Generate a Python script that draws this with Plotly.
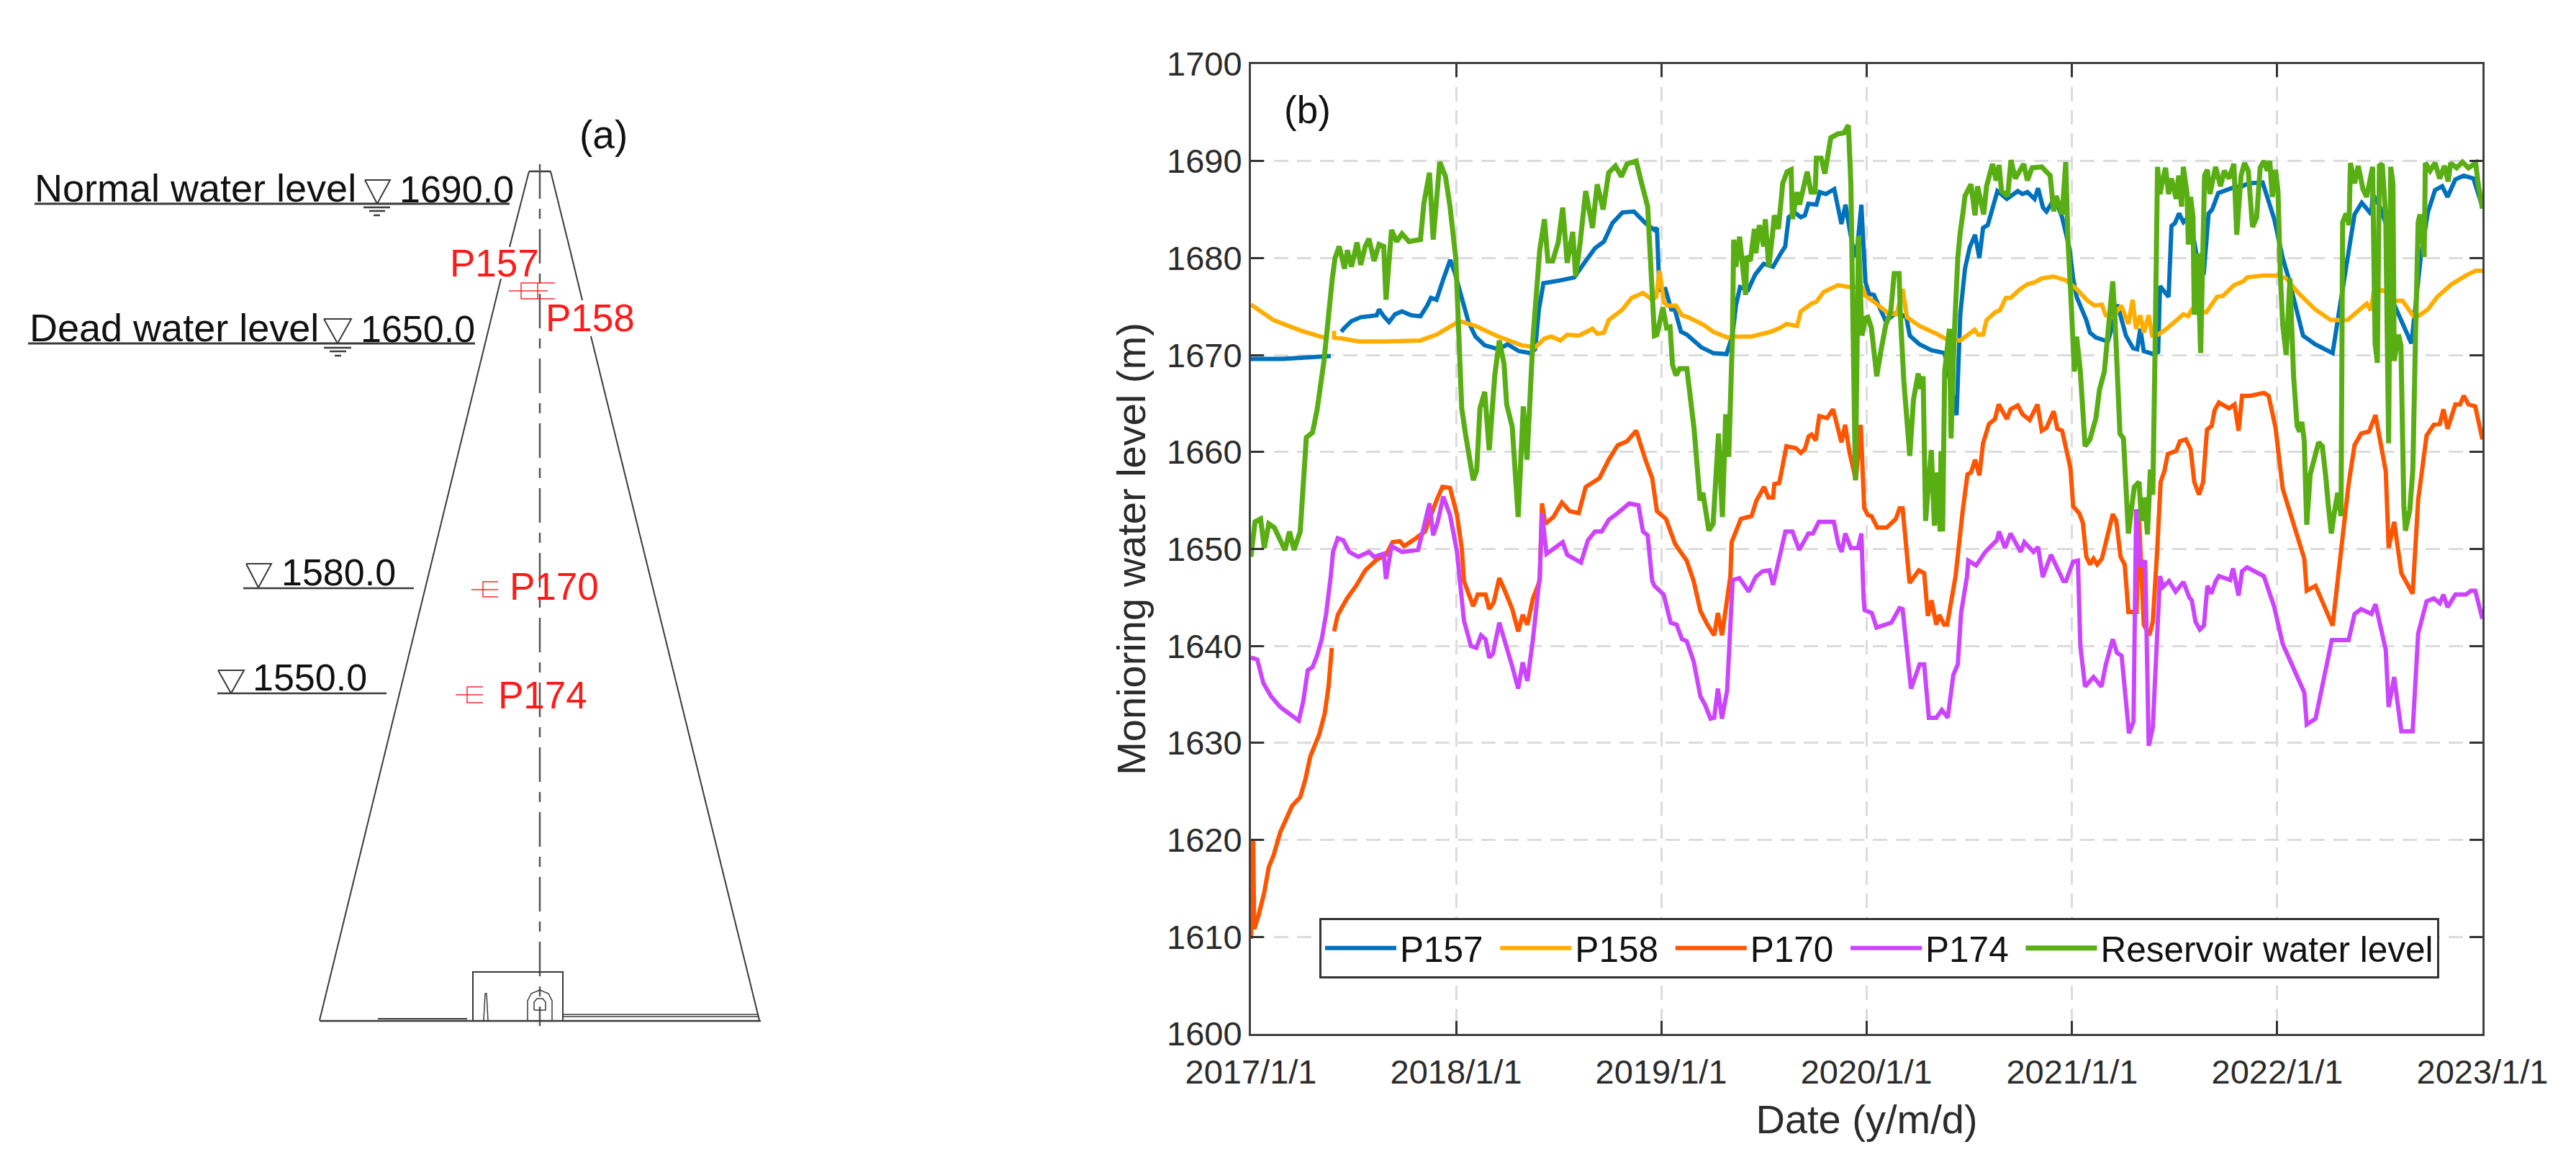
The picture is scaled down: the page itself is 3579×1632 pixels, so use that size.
import pandas as pd
import plotly.graph_objects as go

W, H = 3579, 1632
# ---------- data: (years since 2017/1/1, level in m) ----------
P157 = [(0,1669.6),(.154,1669.6),(.389,1669.9),None,
(.44,1672.4),(.456,1672.8),(.49,1673.5),(.535,1673.9),(.613,1674.1),(.624,1674.7),(.647,1674),(.673,1673.4),(.702,1674.2),(.736,1674.5),(.78,1674.1),(.826,1674),(.859,1675.1),(.877,1675.9),(.904,1675.7),(.937,1677.8),(.971,1679.8),(.993,1678.5),(1.027,1675.9),(1.06,1673.4),(1.094,1671.9),(1.139,1671),(1.206,1670.6),(1.25,1671.1),(1.306,1670.4),(1.362,1670.2),(1.385,1670.6),(1.403,1674.7),(1.425,1677.4),(1.508,1677.7),(1.575,1678),(1.631,1679.7),(1.676,1681),(1.72,1681.7),(1.761,1683.6),(1.81,1684.7),(1.866,1684.8),(1.922,1683.6),(1.966,1682.9),(1.978,1683.1),(1.99,1676.7),(2.019,1676.8),(2.048,1674.7),(2.065,1674.7),(2.095,1672.4),(2.124,1672.1),(2.194,1670.8),(2.252,1670.2),(2.317,1670.1),(2.346,1672),(2.363,1675.1),(2.383,1677),(2.422,1676.7),(2.457,1678.3),(2.498,1679.4),(2.544,1679.1),(2.585,1680.6),(2.603,1681.2),(2.62,1684.2),(2.65,1684.7),(2.679,1684.2),(2.699,1684.4),(2.716,1685.6),(2.755,1685.5),(2.772,1686.8),(2.801,1686.6),(2.842,1687.1),(2.877,1683.5),(2.897,1685.5),(2.918,1682.8),(2.942,1680.1),(2.956,1681.5),(2.974,1685.5),(2.994,1677.5),(3.012,1676.3),(3.035,1676.2),(3.093,1673.5),(3.146,1674.4),(3.193,1673.9),(3.21,1672),(3.257,1671.1),(3.315,1670.5),(3.38,1670.2),(3.438,1663.8),(3.456,1674.2),(3.479,1678.9),(3.502,1681.1),(3.528,1682.4),(3.549,1680),(3.567,1683.1),(3.59,1683.4),(3.637,1686.9),(3.683,1686.1),(3.736,1686.9),(3.759,1686.6),(3.783,1686.8),(3.818,1686.1),(3.835,1687.2),(3.859,1685.2),(3.876,1684.8),(3.917,1686.2),(3.952,1684.2),(3.988,1681),(4.006,1677.9),(4.023,1676),(4.07,1673.6),(4.088,1672.3),(4.117,1671.8),(4.175,1671.4),(4.195,1672.8),(4.222,1675.2),(4.263,1672),(4.298,1670.7),(4.318,1670.6),(4.333,1672.7),(4.35,1670.4),(4.397,1670.1),(4.42,1670.3),(4.429,1677.1),(4.471,1676),(4.485,1683.3),(4.502,1683.6),(4.522,1684.6),(4.543,1683.7),(4.567,1684.2),(4.59,1682.4),(4.619,1678.9),(4.643,1678.6),(4.666,1684.6),(4.683,1685),(4.713,1686.7),(4.789,1687.3),(4.829,1687.4),(4.859,1687.7),(4.929,1687.8),(4.986,1684),(5.027,1680),(5.056,1677.9),(5.126,1672),(5.185,1671.1),(5.27,1670.2),(5.307,1675.2),(5.377,1684.5),(5.412,1685.7),(5.459,1684.5),(5.465,1686.6),(5.5,1685.3),(5.535,1683.2),(5.57,1675.2),(5.654,1671.2),(5.699,1680),(5.734,1684.7),(5.769,1687),(5.804,1687.4),(5.83,1686.3),(5.868,1688.1),(5.909,1688.5),(5.956,1688.2),(6,1685.3)]

P158 = [(0,1675.2),(.11,1673.6),(.244,1672.5),(.356,1671.8),None,(.405,1672.5),(.405,1671.8),(.445,1671.7),(.523,1671.4),(.647,1671.4),(.826,1671.5),(.904,1672.1),(.96,1672.8),(1.016,1673.5),(1.094,1673),(1.206,1671.9),(1.318,1671),(1.385,1670.8),(1.43,1671.7),(1.463,1671.9),(1.508,1671.5),(1.541,1672.1),(1.597,1672),(1.664,1672.7),(1.687,1672.2),(1.72,1672.3),(1.743,1673.6),(1.81,1674.7),(1.855,1675.9),(1.91,1676.4),(1.955,1675.7),(1.975,1676),(1.99,1678.7),(2.013,1675.4),(2.03,1675.1),(2.071,1675.1),(2.1,1674.1),(2.13,1673.9),(2.206,1673.1),(2.252,1672.4),(2.322,1671.8),(2.363,1671.9),(2.439,1671.9),(2.533,1672.4),(2.579,1672.8),(2.609,1673.2),(2.661,1673),(2.679,1674.5),(2.731,1675.3),(2.755,1675.5),(2.79,1676.5),(2.86,1677.2),(2.918,1677),(2.977,1677),(2.994,1676.1),(3.041,1675.4),(3.105,1674.3),(3.146,1674.2),(3.175,1676.8),(3.196,1673.9),(3.257,1673),(3.339,1672.2),(3.391,1671.6),(3.456,1671.5),(3.526,1672.6),(3.543,1672.1),(3.567,1672.1),(3.584,1673.6),(3.625,1674.4),(3.649,1674.6),(3.678,1675.9),(3.701,1675.9),(3.748,1676.8),(3.783,1677.3),(3.818,1677.5),(3.853,1677.9),(3.911,1678.1),(3.971,1677.7),(4.018,1676.9),(4.076,1675.6),(4.111,1675.1),(4.146,1675.2),(4.164,1674.1),(4.199,1673.9),(4.24,1675.1),(4.275,1673.2),(4.296,1675.7),(4.312,1672.7),(4.333,1674.1),(4.35,1672.3),(4.374,1674.1),(4.391,1672),(4.42,1672.1),(4.467,1672.8),(4.543,1674.2),(4.567,1674),(4.584,1674.7),(4.654,1674.4),(4.707,1676),(4.736,1676.1),(4.789,1677.2),(4.835,1677.6),(4.853,1678),(4.929,1678.2),(5.004,1678.2),(5.044,1677.9),(5.103,1676.4),(5.185,1674.7),(5.261,1673.6),(5.342,1673.6),(5.436,1675.3),(5.456,1674.6),(5.47,1676.5),(5.512,1676.7),(5.547,1676.3),(5.57,1675.6),(5.611,1675.6),(5.664,1674),(5.687,1674),(5.734,1674.7),(5.78,1676),(5.85,1677.3),(5.92,1678.2),(5.967,1678.7),(6,1678.7)]

P170 = [(0,1609.8),(.011,1619.9),(.016,1610.8),(.038,1612.3),(.065,1614.6),(.087,1617.2),(.11,1618.4),(.143,1620.8),(.2,1623.5),(.24,1624.4),(.266,1626.3),(.289,1628.6),(.333,1630.9),(.36,1633.1),(.378,1635.8),(.394,1639.8),None,
(.405,1641.5),(.423,1643.2),(.468,1644.9),(.512,1646.2),(.557,1647.8),(.613,1648.9),(.658,1649.4),(.69,1650.7),(.725,1650.8),(.747,1650.3),(.803,1651.1),(.848,1651.8),(.904,1655),(.933,1656.4),(.97,1656.3),(1.004,1653.5),(1.027,1650.1),(1.038,1646.7),(1.05,1646),(1.083,1644.1),(1.105,1645.3),(1.143,1645.3),(1.161,1643.8),(1.183,1644.5),(1.21,1647),(1.239,1645.6),(1.273,1643.8),(1.302,1641.5),(1.324,1643.2),(1.347,1642.2),(1.374,1644.9),(1.407,1646.7),(1.418,1654.7),(1.434,1652.6),(1.474,1653.3),(1.515,1654.8),(1.553,1653.9),(1.597,1653.7),(1.631,1656.4),(1.698,1657.3),(1.743,1659.2),(1.787,1660.7),(1.832,1661.1),(1.877,1662.2),(1.922,1659.2),(1.955,1657.3),(1.978,1653.9),(2.022,1653.1),(2.067,1650.5),(2.123,1648.8),(2.157,1646.7),(2.19,1643.6),(2.224,1642.2),(2.257,1641.1),(2.275,1643.4),(2.295,1641.1),(2.336,1647.2),(2.342,1650.7),(2.387,1653.1),(2.439,1653.4),(2.463,1655),(2.5,1656.4),(2.521,1655.3),(2.544,1655.3),(2.55,1656.7),(2.574,1656.8),(2.609,1660.6),(2.655,1660.4),(2.679,1659.9),(2.699,1660.3),(2.717,1661.6),(2.731,1661.8),(2.752,1661.2),(2.769,1663.7),(2.807,1663.5),(2.836,1664.4),(2.877,1661),(2.895,1662.8),(2.916,1660),(2.947,1657.1),(2.971,1662.8),(2.988,1654.2),(3.006,1653.5),(3.023,1653.4),(3.052,1652.2),(3.097,1652.2),(3.142,1653.1),(3.16,1654.2),(3.175,1654.2),(3.209,1646.5),(3.254,1647.8),(3.28,1647.5),(3.298,1643.1),(3.316,1644.7),(3.339,1642.2),(3.354,1643.2),(3.377,1642.2),(3.392,1642.2),(3.433,1647.2),(3.467,1653.8),(3.491,1657.7),(3.508,1657.9),(3.528,1659.2),(3.549,1657.6),(3.567,1660.9),(3.596,1662.9),(3.625,1663.4),(3.643,1664.9),(3.683,1663.4),(3.701,1664.4),(3.736,1664.8),(3.759,1663.9),(3.794,1663.3),(3.832,1664.9),(3.853,1662.2),(3.876,1662.5),(3.911,1664.2),(3.929,1662.4),(3.952,1662.2),(3.993,1658.3),(4.006,1654.4),(4.035,1653.7),(4.053,1652.7),(4.07,1649.2),(4.088,1648.4),(4.105,1649),(4.123,1648.4),(4.146,1649),(4.199,1653.6),(4.216,1652.9),(4.237,1649.2),(4.257,1648.4),(4.275,1643.5),(4.315,1643.5),(4.327,1653),(4.35,1642.2),(4.377,1641.1),(4.394,1642.5),(4.415,1649.7),(4.432,1656.9),(4.45,1658),(4.467,1659.8),(4.508,1660.1),(4.526,1661.1),(4.555,1661.3),(4.578,1660.3),(4.596,1656.9),(4.619,1655.6),(4.639,1656.9),(4.658,1662.3),(4.681,1662.7),(4.695,1664.3),(4.716,1665.1),(4.765,1664.5),(4.792,1664.9),(4.812,1662.2),(4.829,1665.8),(4.87,1665.8),(4.935,1666.1),(4.958,1665.8),(4.992,1662.5),(5.027,1656.2),(5.132,1649),(5.144,1645.7),(5.187,1646.2),(5.27,1642.1),(5.325,1652.4),(5.348,1656.7),(5.377,1660.7),(5.409,1661.9),(5.447,1662.1),(5.479,1663.8),(5.529,1658),(5.543,1650.1),(5.57,1652.8),(5.605,1647.5),(5.66,1645.4),(5.687,1655.1),(5.728,1661.7),(5.763,1662.8),(5.792,1662.9),(5.81,1664.4),(5.83,1662.4),(5.868,1664.9),(5.891,1664.9),(5.909,1665.8),(5.932,1664.9),(5.965,1664.7),(6,1661.3)]

P174 = [(0,1638.8),(.031,1638.6),(.06,1636.2),(.098,1634.8),(.143,1633.7),(.188,1633),(.233,1632.3),(.255,1634.3),(.277,1637.5),(.3,1637.8),(.322,1639),(.345,1640.7),(.367,1643.4),(.389,1647.2),(.4,1649.7),(.423,1651.1),(.45,1650.9),(.479,1649.7),(.523,1649.2),(.575,1649.7),(.6,1649.2),(.647,1649.5),(.658,1646.9),(.685,1650.3),(.736,1649.7),(.814,1649.9),(.837,1651.8),(.87,1654.7),(.888,1651.4),(.91,1652.8),(.937,1655.4),(.97,1653.5),(1.004,1649.7),(1.027,1644.9),(1.038,1642.6),(1.072,1640),(1.098,1639.8),(1.121,1641.1),(1.143,1640.7),(1.161,1638.8),(1.179,1639.2),(1.21,1642.4),(1.273,1637.9),(1.302,1635.6),(1.324,1638.3),(1.347,1636.4),(1.374,1640.7),(1.407,1647.2),(1.418,1653.7),(1.44,1649.5),(1.519,1650.7),(1.541,1649.4),(1.608,1648.6),(1.642,1650.9),(1.676,1651.8),(1.709,1651.8),(1.743,1653),(1.787,1653.7),(1.843,1654.7),(1.888,1654.5),(1.91,1651.8),(1.933,1651.4),(1.955,1646.7),(1.966,1646.2),(2.011,1645.3),(2.045,1642.4),(2.074,1642.2),(2.1,1640.7),(2.123,1640.5),(2.157,1638.4),(2.19,1634.8),(2.213,1633.9),(2.239,1632.5),(2.257,1632.6),(2.275,1635.6),(2.295,1632.5),(2.32,1635.4),(2.347,1646.8),(2.38,1647),(2.425,1645.6),(2.459,1647.1),(2.492,1647.7),(2.526,1647.8),(2.544,1646.3),(2.604,1651.8),(2.638,1651.8),(2.671,1649.9),(2.716,1651.6),(2.738,1651.6),(2.767,1652.8),(2.84,1652.8),(2.862,1650.5),(2.878,1649.7),(2.896,1651.6),(2.923,1650.1),(2.958,1650.1),(2.974,1651.6),(2.985,1644.9),(2.99,1643.7),(3.025,1643.4),(3.048,1641.9),(3.12,1642.4),(3.16,1643.9),(3.175,1643.8),(3.216,1635.6),(3.258,1638.1),(3.28,1638.1),(3.303,1632.6),(3.339,1632.6),(3.366,1633.4),(3.395,1632.6),(3.422,1637),(3.444,1638.1),(3.46,1643.4),(3.489,1647.2),(3.495,1648.8),(3.533,1648.3),(3.578,1649.7),(3.634,1650.9),(3.645,1651.8),(3.674,1650.1),(3.701,1651.6),(3.75,1649.7),(3.768,1650.7),(3.813,1649.7),(3.835,1650.2),(3.858,1647.1),(3.898,1649.4),(3.958,1646.7),(3.971,1646.7),(4.006,1648.7),(4.029,1648.8),(4.041,1640),(4.064,1635.8),(4.105,1636.8),(4.144,1635.8),(4.164,1638),(4.199,1640.7),(4.219,1639.3),(4.242,1639),(4.278,1631),(4.3,1632.2),(4.313,1654.1),(4.333,1648.2),(4.357,1648.8),(4.374,1629.7),(4.394,1631.6),(4.429,1647.2),(4.444,1646.1),(4.473,1646.7),(4.505,1645.6),(4.543,1646.6),(4.572,1645),(4.584,1644.7),(4.602,1642.5),(4.623,1641.7),(4.643,1642.1),(4.66,1646.2),(4.679,1645.4),(4.701,1646.7),(4.716,1647.2),(4.771,1646.8),(4.785,1648),(4.812,1645.2),(4.829,1647.7),(4.853,1648.1),(4.935,1647.2),(4.986,1644),(5.027,1640.2),(5.132,1635.2),(5.144,1631.9),(5.187,1632.5),(5.266,1640.6),(5.348,1640.6),(5.377,1643.3),(5.409,1643.8),(5.459,1643.3),(5.479,1644.3),(5.529,1639.6),(5.543,1633.7),(5.57,1636.8),(5.605,1631.2),(5.66,1631.2),(5.687,1641.3),(5.728,1644.6),(5.763,1644.9),(5.792,1644.4),(5.81,1645.3),(5.83,1644),(5.868,1645.3),(5.92,1645.3),(5.944,1645.7),(5.965,1645.7),(6,1642.8)]

RESERVOIR = [(0,1649.2),(.02,1652.8),(.047,1653.1),(.065,1650.1),(.087,1652.6),(.114,1652.2),(.143,1650.9),(.166,1649.9),(.188,1651.8),(.21,1649.9),(.24,1651.8),(.27,1661.5),(.3,1662),(.322,1664.3),(.356,1669.4),(.378,1674),(.396,1677.8),(.41,1680),(.43,1681.2),(.456,1678.9),(.47,1680.8),(.49,1679.1),(.517,1681.6),(.535,1679.3),(.557,1681.2),(.575,1682),(.6,1679.7),(.624,1681.4),(.647,1681.2),(.658,1675.7),(.685,1682.9),(.71,1681.7),(.736,1682.5),(.77,1681.7),(.826,1681.9),(.843,1685.7),(.87,1688.8),(.888,1681.9),(.92,1689.9),(.948,1688.4),(.97,1685.3),(.998,1680),(1.027,1664.5),(1.045,1661.9),(1.083,1657.1),(1.1,1658.1),(1.116,1664.5),(1.139,1666.2),(1.161,1660.2),(1.188,1667.9),(1.21,1671.5),(1.233,1669.1),(1.246,1664.9),(1.273,1662.6),(1.302,1653.3),(1.327,1664.7),(1.345,1659.2),(1.374,1671.7),(1.407,1680.8),(1.43,1684),(1.447,1679.7),(1.47,1679.7),(1.497,1681.6),(1.519,1685.2),(1.541,1679.5),(1.568,1682.7),(1.582,1678.1),(1.604,1681.6),(1.631,1686.9),(1.664,1683.1),(1.687,1687.6),(1.716,1685),(1.743,1688.8),(1.776,1689.5),(1.805,1688.4),(1.832,1689.7),(1.877,1690),(1.9,1688),(1.933,1685.3),(1.966,1672),(1.978,1672.1),(2.007,1674.9),(2.025,1672.8),(2.042,1672.9),(2.054,1669),(2.071,1667.9),(2.089,1668.6),(2.124,1668.6),(2.159,1662.4),(2.188,1655),(2.202,1655.8),(2.231,1651.9),(2.252,1652.6),(2.278,1661.9),(2.297,1653.3),(2.313,1663.9),(2.328,1659.5),(2.346,1672),(2.352,1681.9),(2.363,1679.1),(2.381,1682.2),(2.41,1676.2),(2.416,1680.2),(2.433,1679.7),(2.453,1683),(2.46,1680.5),(2.477,1683.4),(2.498,1681.2),(2.506,1684),(2.523,1679.1),(2.542,1682.6),(2.55,1684.4),(2.57,1683),(2.591,1687.7),(2.612,1688.9),(2.632,1689.1),(2.638,1684),(2.661,1686.8),(2.673,1685.5),(2.71,1688.9),(2.729,1686.8),(2.749,1686.8),(2.755,1690.3),(2.778,1690.3),(2.796,1688.7),(2.825,1692.4),(2.86,1692.8),(2.889,1692.9),(2.911,1693.7),(2.923,1687.6),(2.945,1657.1),(2.96,1682.3),(2.977,1672),(2.994,1673.8),(3.006,1673.9),(3.023,1672.8),(3.049,1667.8),(3.07,1670.5),(3.093,1673.1),(3.117,1674.4),(3.134,1678.4),(3.158,1678.4),(3.164,1674.2),(3.181,1667.3),(3.21,1659.6),(3.228,1665.4),(3.251,1668.1),(3.263,1666.5),(3.275,1667.8),(3.287,1652.9),(3.315,1660.2),(3.33,1652.4),(3.345,1657.9),(3.358,1651.8),(3.362,1660.1),(3.37,1651.8),(3.38,1668.3),(3.403,1672.7),(3.411,1661.4),(3.426,1671.8),(3.444,1680),(3.456,1682.7),(3.47,1684.8),(3.479,1686.4),(3.508,1687.6),(3.528,1684.4),(3.54,1687.4),(3.57,1684.5),(3.584,1687.4),(3.613,1689.7),(3.631,1688),(3.645,1689.6),(3.657,1686.9),(3.687,1686.4),(3.703,1690.1),(3.724,1688.2),(3.765,1689.7),(3.783,1688),(3.806,1689.3),(3.853,1689.4),(3.894,1688.5),(3.911,1684.8),(3.923,1686.4),(3.952,1684.5),(3.97,1689.9),(3.98,1682.1),(3.993,1676.8),(4.012,1668.3),(4.023,1671.9),(4.041,1668.3),(4.064,1660.6),(4.088,1661.3),(4.117,1663.5),(4.134,1666.4),(4.158,1668.3),(4.199,1677.6),(4.21,1673.6),(4.234,1661.9),(4.251,1661.4),(4.275,1651.6),(4.304,1656.4),(4.327,1656.9),(4.339,1652.9),(4.354,1655.3),(4.368,1651.5),(4.382,1658.2),(4.394,1655.6),(4.405,1670.4),(4.417,1689.4),(4.429,1686.6),(4.444,1688.2),(4.456,1689.3),(4.471,1686.6),(4.485,1688.2),(4.508,1686.1),(4.52,1688.5),(4.534,1685.3),(4.543,1689.4),(4.561,1686.6),(4.567,1681.4),(4.578,1686.3),(4.59,1684.2),(4.596,1674.4),(4.607,1674.4),(4.613,1680.5),(4.627,1670.2),(4.646,1688.5),(4.66,1689.1),(4.672,1686.6),(4.7,1689.4),(4.724,1687.4),(4.742,1689),(4.765,1688.2),(4.789,1689.7),(4.803,1682.4),(4.824,1688.5),(4.841,1689.8),(4.859,1689),(4.88,1683.2),(4.9,1684.2),(4.917,1689.3),(4.935,1690),(4.952,1689),(4.964,1690),(4.976,1686.3),(4.992,1689.1),(5.004,1686.9),(5.015,1678.4),(5.027,1673.1),(5.044,1670),(5.062,1677.9),(5.08,1667.8),(5.097,1662.7),(5.109,1662.1),(5.12,1663.1),(5.132,1661.1),(5.144,1652.5),(5.161,1657.7),(5.202,1661),(5.22,1660.6),(5.237,1657.4),(5.249,1654.5),(5.264,1651.6),(5.278,1653.7),(5.295,1655.8),(5.311,1653.4),(5.319,1683.7),(5.336,1684.6),(5.35,1683.4),(5.357,1689.8),(5.377,1687.7),(5.395,1689.5),(5.418,1687.1),(5.436,1686.3),(5.465,1689.4),(5.477,1671.2),(5.488,1669.2),(5.498,1689.5),(5.512,1689.7),(5.529,1684.2),(5.543,1660.9),(5.553,1689.4),(5.564,1687.7),(5.57,1669.4),(5.591,1672.1),(5.603,1671),(5.617,1654.5),(5.625,1651.9),(5.646,1654),(5.661,1658.2),(5.675,1673.1),(5.687,1683.7),(5.696,1684.5),(5.716,1680.1),(5.722,1689.8),(5.745,1689),(5.769,1689.8),(5.792,1688.2),(5.815,1689.5),(5.833,1687.9),(5.845,1689.8),(5.874,1689.3),(5.903,1689.9),(5.932,1689.3),(5.967,1689.8),(5.979,1687.7),(6,1685.1)]

SERIES = [("P157\u00a0", P157, "#0072BD", 6), ("P158\u00a0", P158, "#FFAE00", 6), ("P170\u00a0", P170, "#FF5500", 6),
          ("P174\u00a0", P174, "#CC44FF", 6), ("Reservoir water level", RESERVOIR, "#59AE14", 7)]
Y_TICKS = list(range(1600, 1701, 10))
X_TICKS = ["2017-01-01", "2018-01-01", "2019-01-01", "2020-01-01", "2021-01-01", "2022-01-01", "2023-01-01"]

FONT = "Liberation Sans"
BASE = pd.Timestamp("2017-01-01")
DAYS = (pd.Timestamp("2023-01-01") - BASE).days / 6.0

def xy(points):
    xs, ys = [], []
    for p in points:
        if p is None:
            xs.append(None); ys.append(None)
        else:
            xs.append((BASE + pd.Timedelta(days=p[0] * DAYS)).strftime("%Y-%m-%d %H:%M"))
            ys.append(p[1])
    return xs, ys

fig = go.Figure()
for name, pts, col, lw in SERIES:
    xs, ys = xy(pts)
    fig.add_trace(go.Scatter(x=xs, y=ys, mode="lines", name=name, connectgaps=False,
                             line=dict(color=col, width=lw, simplify=False), xaxis="x", yaxis="y"))

# ---------- panel (a): the dam drawing, on its own hidden axes ----------
INK = "#3a3a3a"
RED = "#FF2A2A"
DRAWING = [  # (x list, y list, colour, width, dash)
    ([735, 765], [238, 238], INK, 2.5, None),
    ([735, 708], [238, 343], INK, 2, None), ([696, 444], [387, 1417], INK, 2, None),
    ([765, 791], [238, 343], INK, 2, None), ([791, 809], [343, 417], INK, 2, None), ([821, 1055], [467, 1417], INK, 2, None),
    ([750, 750], [228, 1425], "#555555", 2.5, "48px,14px,14px,14px"),
    ([48, 708], [283, 283], INK, 3, None), ([39, 660], [477, 477], INK, 3, None),
    ([338, 575], [817, 817], INK, 2.5, None), ([302, 537], [963, 963], INK, 2.5, None),
    ([507, 542, 524, 507], [250, 250, 283, 250], INK, 2, None),
    ([450, 488, 469, 450], [443, 443, 477, 443], INK, 2, None),
    ([342, 377, 359, 342], [783, 783, 816, 783], INK, 2, None),
    ([303, 339, 321, 303], [931, 931, 963, 931], INK, 2, None),
    ([505, 542], [288, 288], INK, 2.5, None), ([513, 535], [293, 293], INK, 2.5, None), ([519, 528], [299, 299], INK, 2.5, None),
    ([450, 488], [483, 483], INK, 2.5, None), ([458, 481], [488, 488], INK, 2.5, None), ([465, 474], [494, 494], INK, 2.5, None),
    ([444, 1057], [1418, 1418], INK, 2.5, None), ([525, 649], [1415, 1415], INK, 2, None),
    ([782, 1053], [1409, 1409], INK, 1.5, None), ([782, 1054], [1412, 1412], INK, 1.5, None),
    ([657, 657, 782, 782], [1417, 1350, 1350, 1417], INK, 2, None),
    ([733, 733, 738, 750, 762, 767, 767], [1417, 1390, 1380, 1375, 1380, 1390, 1417], INK, 1.5, None),
    ([742, 742, 746, 754, 758, 758, 742], [1403, 1392, 1387, 1387, 1392, 1403, 1403], INK, 1.5, None),
    ([672, 674, 676, 678], [1417, 1380, 1380, 1417], INK, 1.5, None),
    ([707, 761], [404, 404], RED, 1.5, None), ([747, 724, 724, 747], [393, 393, 415, 415], RED, 1.5, None),
    ([771, 747, 747, 771], [393, 393, 415, 415], RED, 1.5, None),
    ([655, 692], [819, 819], RED, 1.5, None), ([692, 671, 671, 692], [808, 808, 829, 829], RED, 1.5, None),
    ([633, 671], [965, 965], RED, 1.5, None), ([671, 649, 649, 671], [954, 954, 976, 976], RED, 1.5, None),
]
for xs, ys, col, w, dash in DRAWING:
    fig.add_trace(go.Scatter(x=xs, y=ys, mode="lines", showlegend=False, hoverinfo="skip",
                             line=dict(color=col, width=w, dash=dash), xaxis="x2", yaxis="y2"))

LABELS = [  # (text, x, y, colour, size)
    ("Normal water level", 46, 261, "#111111", 54), ("1690.0", 553, 263, "#111111", 52),
    ("Dead water level", 39, 455, "#111111", 54), ("1650.0", 499, 457, "#111111", 52),
    ("1580.0", 389, 795, "#111111", 52), ("1550.0", 349, 941, "#111111", 52),
    ("(a)", 803, 187, "#111111", 55),
    ("P157", 623, 365, "#FF1A1A", 53), ("P158", 756, 441, "#FF1A1A", 53),
    ("P170", 706, 814, "#FF1A1A", 53), ("P174", 690, 965, "#FF1A1A", 53),
]
anns = [dict(text=t, x=x, y=y, xref="x2", yref="y2", xanchor="left", yanchor="middle", showarrow=False,
             font=dict(family=FONT, size=s, color=c)) for t, x, y, c, s in LABELS]
anns.append(dict(text="(b)", x=1782 / W, y=1 - 152 / H, xref="paper", yref="paper", xanchor="left", yanchor="middle",
                 showarrow=False, font=dict(family=FONT, size=53, color="#111111")))

AX = dict(automargin=False, showline=True, linecolor="#404040", linewidth=3, mirror="allticks", ticks="inside", ticklen=18, tickwidth=3,
          tickcolor="#333333", showgrid=True, gridcolor="#dcdcdc", griddash="20px,12px", gridwidth=3, zeroline=False,
          tickfont=dict(family=FONT, size=47, color="#2b2b2b"))
fig.update_layout(
    width=W, height=H, autosize=False, margin=dict(l=0, r=0, t=0, b=0, autoexpand=False), paper_bgcolor="white", plot_bgcolor="white",
    font=dict(family=FONT, color="#2b2b2b"),
    annotations=anns,
    xaxis=dict(AX, type="date", domain=[1738 / W, 3449 / W], range=["2017-01-01", "2023-01-01"], tickvals=X_TICKS,
               tickformat="%Y/%-m/%-d", anchor="y", ticklabelstandoff=10,
               title=dict(text="Date (y/m/d)", font=dict(family=FONT, size=56, color="#2b2b2b"), standoff=21)),
    yaxis=dict(AX, domain=[1 - 1436 / H, 1 - 89 / H], range=[1600, 1700], tickvals=Y_TICKS, anchor="x",
               title=dict(text="Monioring water level (m)", font=dict(family=FONT, size=56, color="#2b2b2b"), standoff=12)),
    xaxis2=dict(domain=[0, 1600 / W], range=[0, 1600], visible=False, anchor="y2", fixedrange=True, automargin=False),
    yaxis2=dict(domain=[0, 1], range=[H, 0], visible=False, anchor="x2", fixedrange=True, automargin=False),
    legend=dict(orientation="h", x=1833 / W, y=1 - 1275 / H, xanchor="left", yanchor="top", bgcolor="white",
                bordercolor="#333333", borderwidth=3, itemwidth=99, font=dict(family=FONT, size=49.5, color="#111111")),
)
fig.write_html("out.html", config=dict(displayModeBar=False),
               post_script="document.body.style.margin='0';document.body.style.overflow='hidden';")
